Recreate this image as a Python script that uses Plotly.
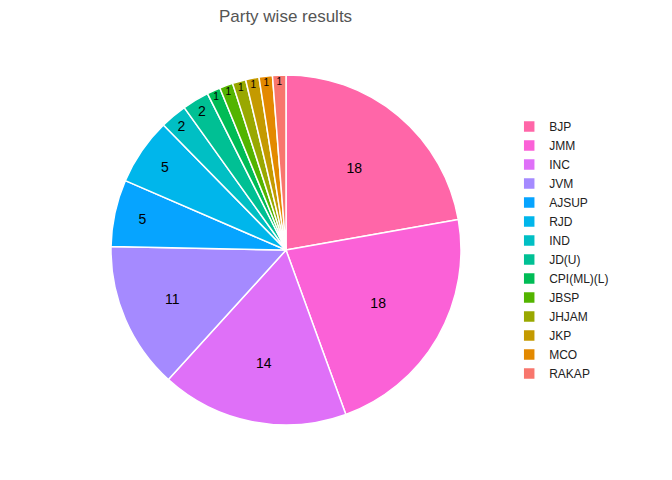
import plotly.graph_objects as go

parties = ["BJP","JMM","INC","JVM","AJSUP","RJD","IND","JD(U)","CPI(ML)(L)","JBSP","JHJAM","JKP","MCO","RAKAP"]
seats = [18,18,14,11,5,5,2,2,1,1,1,1,1,1]
colors = ["#FF66A8","#FB61D7","#DF70F8","#A58AFF","#06A4FF","#00B6EB","#00BFC4","#00C094",
          "#00BC56","#53B400","#99A800","#C49A00","#E38900","#F8766D"]

fig = go.Figure(go.Pie(
    labels=parties, values=seats, sort=False, direction="clockwise", rotation=0,
    marker=dict(colors=colors, line=dict(color="white", width=1.5)),
    textinfo="value", textposition="inside", insidetextorientation="horizontal",
    textfont=dict(color="black", size=14), hoverinfo="label+value",
))
fig.update_layout(
    width=672, height=480, paper_bgcolor="white", plot_bgcolor="white",
    font=dict(family="Liberation Sans, Arial, sans-serif"),
    title=dict(text="Party wise results", x=0.413, xanchor="center", y=0.995, yanchor="top",
               font=dict(size=17, color="#555555")),
    margin=dict(l=92, r=208, t=67, b=63),
    legend=dict(x=1.1, y=0.5, yanchor="middle", font=dict(size=12, color="#222222"),
                itemwidth=30),
)
fig.write_html("out.html")
